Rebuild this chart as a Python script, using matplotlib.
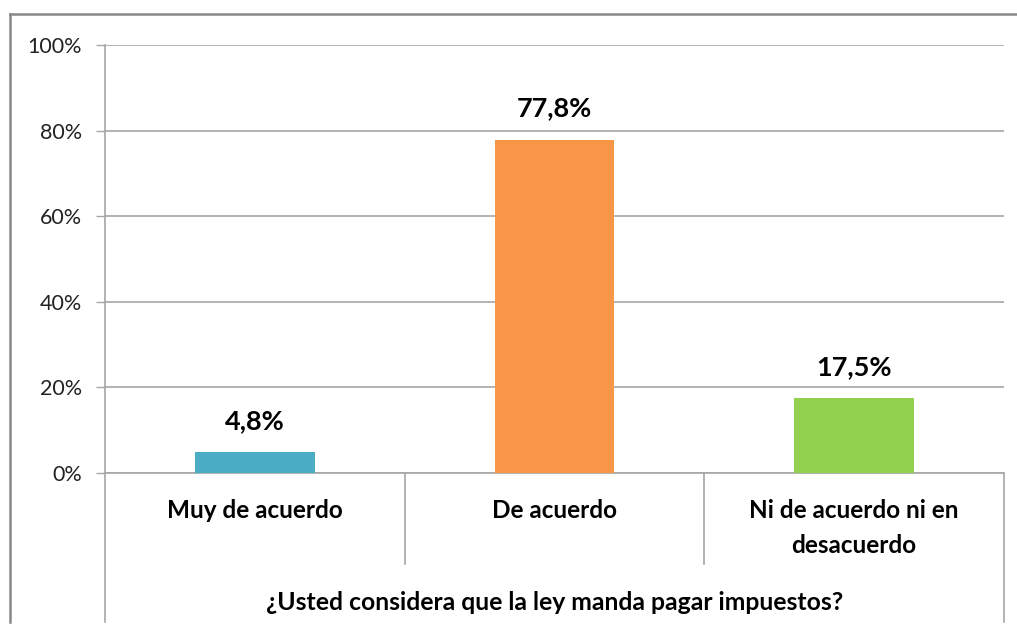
import matplotlib
matplotlib.use('Agg')
import matplotlib.pyplot as plt
from matplotlib.lines import Line2D

plt.rcParams['font.family'] = ['Lato', 'DejaVu Sans']

# 数据
categorias = ['Muy de acuerdo', 'De acuerdo', 'Ni de acuerdo ni en\ndesacuerdo']
valores = [4.8, 77.8, 17.5]
etiquetas = ['4,8%', '77,8%', '17,5%']
colores = ['#4BACC6', '#F79646', '#92D050']
yticks = [0, 20, 40, 60, 80, 100]
titulo_x = '¿Usted considera que la ley manda pagar impuestos?'

W, H = 1017, 626
fig = plt.figure(figsize=(W / 100, H / 100), dpi=100)
ax = fig.add_axes([105 / W, 153 / H, 899 / W, 428 / H])

x = list(range(len(categorias)))
ax.bar(x, valores, width=0.4, color=colores, zorder=3)
for xi, v, t in zip(x, valores, etiquetas):
    ax.annotate(t, (xi, v), xytext=(0, 14), textcoords='offset points',
                ha='center', va='bottom', fontsize=19.5, fontweight='bold')

ax.set_xlim(-0.5, 2.5)
ax.set_ylim(0, 100)
ax.set_yticks(yticks)
ax.set_yticklabels([f'{t}%' for t in yticks], fontsize=15.5, color='#222222')
ax.yaxis.grid(True, color='#A6A6A6', linewidth=1.2, zorder=0)
ax.tick_params(axis='y', length=6.5, width=1, color='#A6A6A6', pad=10)

ax.set_xticks(x)
ax.set_xticklabels(categorias, fontsize=17.5, fontweight='bold', linespacing=1.6, va='top')
ax.tick_params(axis='x', length=0, pad=19)
ax.set_xlabel(titulo_x, fontsize=17.8, fontweight='bold', labelpad=0)
ax.xaxis.set_label_coords(0.5, -0.275)

for s in ['top', 'right']:
    ax.spines[s].set_visible(False)
ax.spines['left'].set_color('#A6A6A6')
ax.spines['bottom'].set_color('#A6A6A6')
ax.spines['left'].set_linewidth(1.2)
ax.spines['bottom'].set_linewidth(1.2)

# 分类分隔线
gris = '#A6A6A6'
for xs in [0.5, 1.5]:
    ax.add_line(Line2D([xs, xs], [0, -(564 - 473) / 428 * 100], color=gris,
                       linewidth=1.2, clip_on=False))
for xs in [-0.5, 2.5]:
    ax.add_line(Line2D([xs, xs], [0, -(622 - 473) / 428 * 100], color=gris,
                       linewidth=1.2, clip_on=False))

# 外框
fig.add_artist(Line2D([10 / W, 1.0], [1 - 14 / H, 1 - 14 / H], color='#888888',
                      linewidth=1.8, transform=fig.transFigure))
fig.add_artist(Line2D([10 / W, 10 / W], [1 - 14 / H, 1 - 622 / H], color='#888888',
                      linewidth=1.8, transform=fig.transFigure))

fig.savefig('out.png', dpi=100)
